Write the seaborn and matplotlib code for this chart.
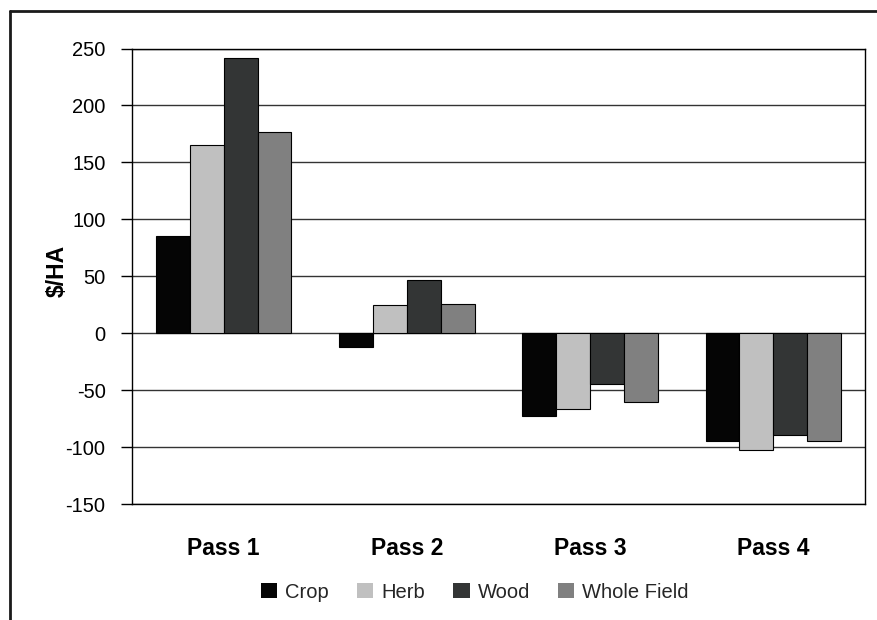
import pandas as pd
import numpy as np
import matplotlib
matplotlib.use("Agg")
import matplotlib.pyplot as plt
import seaborn as sns
from matplotlib.lines import Line2D

# data
passes = ["Pass 1", "Pass 2", "Pass 3", "Pass 4"]
crop = [85, -12, -73, -95]
herb = [165, 25, -67, -103]
wood = [242, 47, -45, -89]
whole_field = [177, 26, -60, -95]
series_names = ["Crop", "Herb", "Wood", "Whole Field"]
colors = ["#050505", "#c0c0c0", "#333535", "#808080"]

df = pd.DataFrame({
    "pass": passes * 4,
    "series": np.repeat(series_names, len(passes)),
    "value": crop + herb + wood + whole_field,
})

sns.set_theme(style="white")
plt.rcParams["font.family"] = ["Liberation Sans", "DejaVu Sans"]
plt.rcParams["axes.unicode_minus"] = False

fig = plt.figure(figsize=(8.77, 6.2), dpi=100)
W, H = 877, 620
ax = fig.add_axes([132 / W, 1 - 504 / H, (865 - 132) / W, (504 - 48.5) / H])

sns.barplot(data=df, x="pass", y="value", hue="series", hue_order=series_names,
            palette=colors, width=0.74, gap=0, edgecolor="black", linewidth=0.8,
            ax=ax, legend=True, zorder=3)

ax.set_ylim(-150, 250)
ax.set_yticks(np.arange(-150, 251, 50))
ax.yaxis.grid(True, color="#333333", linewidth=1.0, zorder=0)
ax.set_axisbelow(True)
for s in ax.spines.values():
    s.set_visible(True)
    s.set_color("black")
    s.set_linewidth(1.0)

ax.tick_params(axis="y", which="major", left=True, length=8, width=1, color="black",
               pad=11, labelsize=14.5, labelcolor="black")
ax.tick_params(axis="x", length=0, pad=24, labelsize=16.5, labelcolor="black")
for lbl in ax.get_xticklabels():
    lbl.set_fontweight("bold")

ax.set_xlabel("")
ax.set_ylabel("$/HA", fontsize=16.5, fontweight="bold", color="black")
ax.yaxis.set_label_coords((69 - 132) / 733, (504 - 271) / 455.5)

leg = ax.get_legend()
handles = leg.legend_handles
leg.remove()
for h in handles:
    h.set_edgecolor("none")
fig.legend(handles, series_names, loc="center", bbox_to_anchor=(475 / W, 1 - 592 / H),
           ncol=4, frameon=False, fontsize=14.5, handlelength=0.8, handleheight=0.8,
           handletextpad=0.4, columnspacing=1.4)

# outer frame (left and top edges only)
fig.add_artist(Line2D([9.5 / W, 9.5 / W], [0, 1 - 10.5 / H], transform=fig.transFigure,
                      color="#1a1a1a", linewidth=2))
fig.add_artist(Line2D([9.5 / W, 1], [1 - 10.5 / H, 1 - 10.5 / H], transform=fig.transFigure,
                      color="#1a1a1a", linewidth=2))

fig.savefig("out.png", dpi=100)
